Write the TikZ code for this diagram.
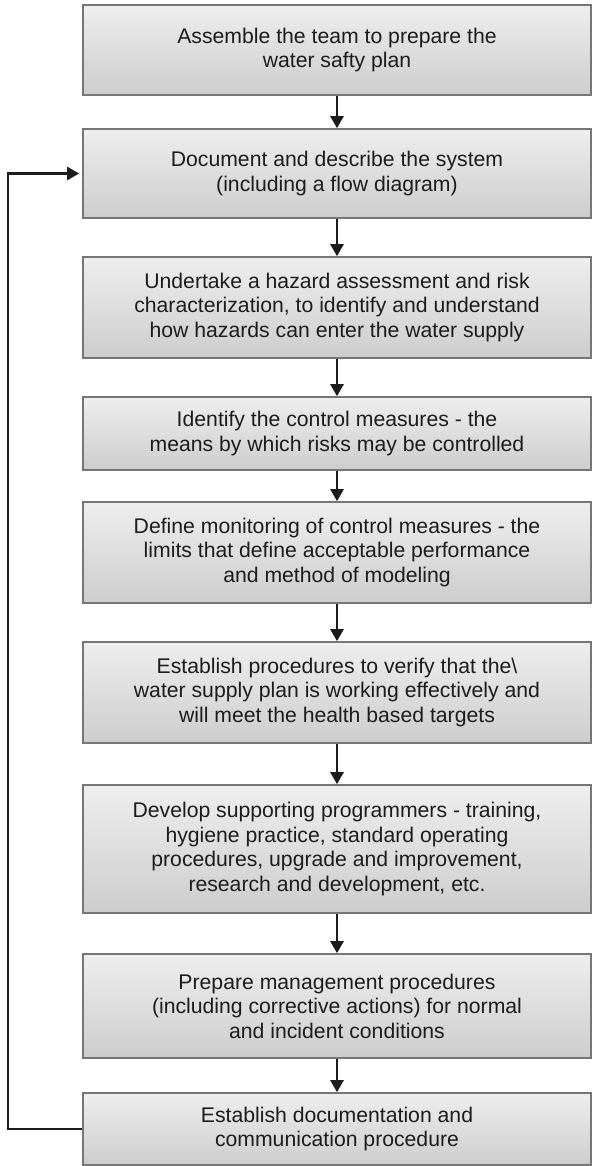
\documentclass[tikz,border=0pt]{standalone}
\usepackage{fontspec}
\setmainfont{Liberation Sans}
\usetikzlibrary{arrows.meta}
\definecolor{boxtop}{HTML}{EEEEEE}
\definecolor{boxbot}{HTML}{CDCDCD}
\definecolor{boxline}{HTML}{767676}
\definecolor{txt}{HTML}{1E1B1C}
\tikzset{
  stepbox/.style={draw=boxline, line width=1.6pt, top color=boxtop, bottom color=boxbot,
    minimum width=508pt, inner sep=0pt, align=center, text=txt,
    font=\fontsize{21.2}{24.5}\selectfont},
  arr/.style={draw=txt, line width=2.4pt, -{Triangle[width=13pt,length=12pt]}}
}
\begin{document}
\begin{tikzpicture}[x=1pt,y=1pt]
\useasboundingbox (0,0) rectangle (593,-1166);
\node[stepbox, minimum height=90pt] (b1) at (337,-50) {Assemble the team to prepare the\\water safty plan};
\node[stepbox, minimum height=89pt] (b2) at (337,-173.5) {Document and describe the system\\(including a flow diagram)};
\node[stepbox, minimum height=101pt] (b3) at (337,-307.5) {Undertake a hazard assessment and risk\\characterization, to identify and understand\\how hazards can enter the water supply};
\node[stepbox, minimum height=73pt] (b4) at (337,-433.5) {Identify the control measures - the\\means by which risks may be controlled};
\node[stepbox, minimum height=101pt] (b5) at (337,-552.5) {Define monitoring of control measures - the\\limits that define acceptable performance\\and method of modeling};
\node[stepbox, minimum height=101pt] (b6) at (337,-692.5) {Establish procedures to verify that the\textbackslash\\water supply plan is working effectively and\\will meet the health based targets};
\node[stepbox, minimum height=128pt] (b7) at (337,-849) {Develop supporting programmers - training,\\hygiene practice, standard operating\\procedures, upgrade and improvement,\\research and development, etc.};
\node[stepbox, minimum height=104pt] (b8) at (337,-1006) {Prepare management procedures\\(including corrective actions) for normal\\and incident conditions};
\node[stepbox, minimum height=72pt] (b9) at (337,-1129) {Establish documentation and\\communication procedure};
\foreach \a/\b in {b1/b2,b2/b3,b3/b4,b4/b5,b5/b6,b6/b7,b7/b8,b8/b9}
  \draw[arr] (\a.south) -- (\b.north);
\draw[arr, shorten >=3pt] (b9.west) -- ++(-74,0) |- (b2.west);
\end{tikzpicture}
\end{document}
